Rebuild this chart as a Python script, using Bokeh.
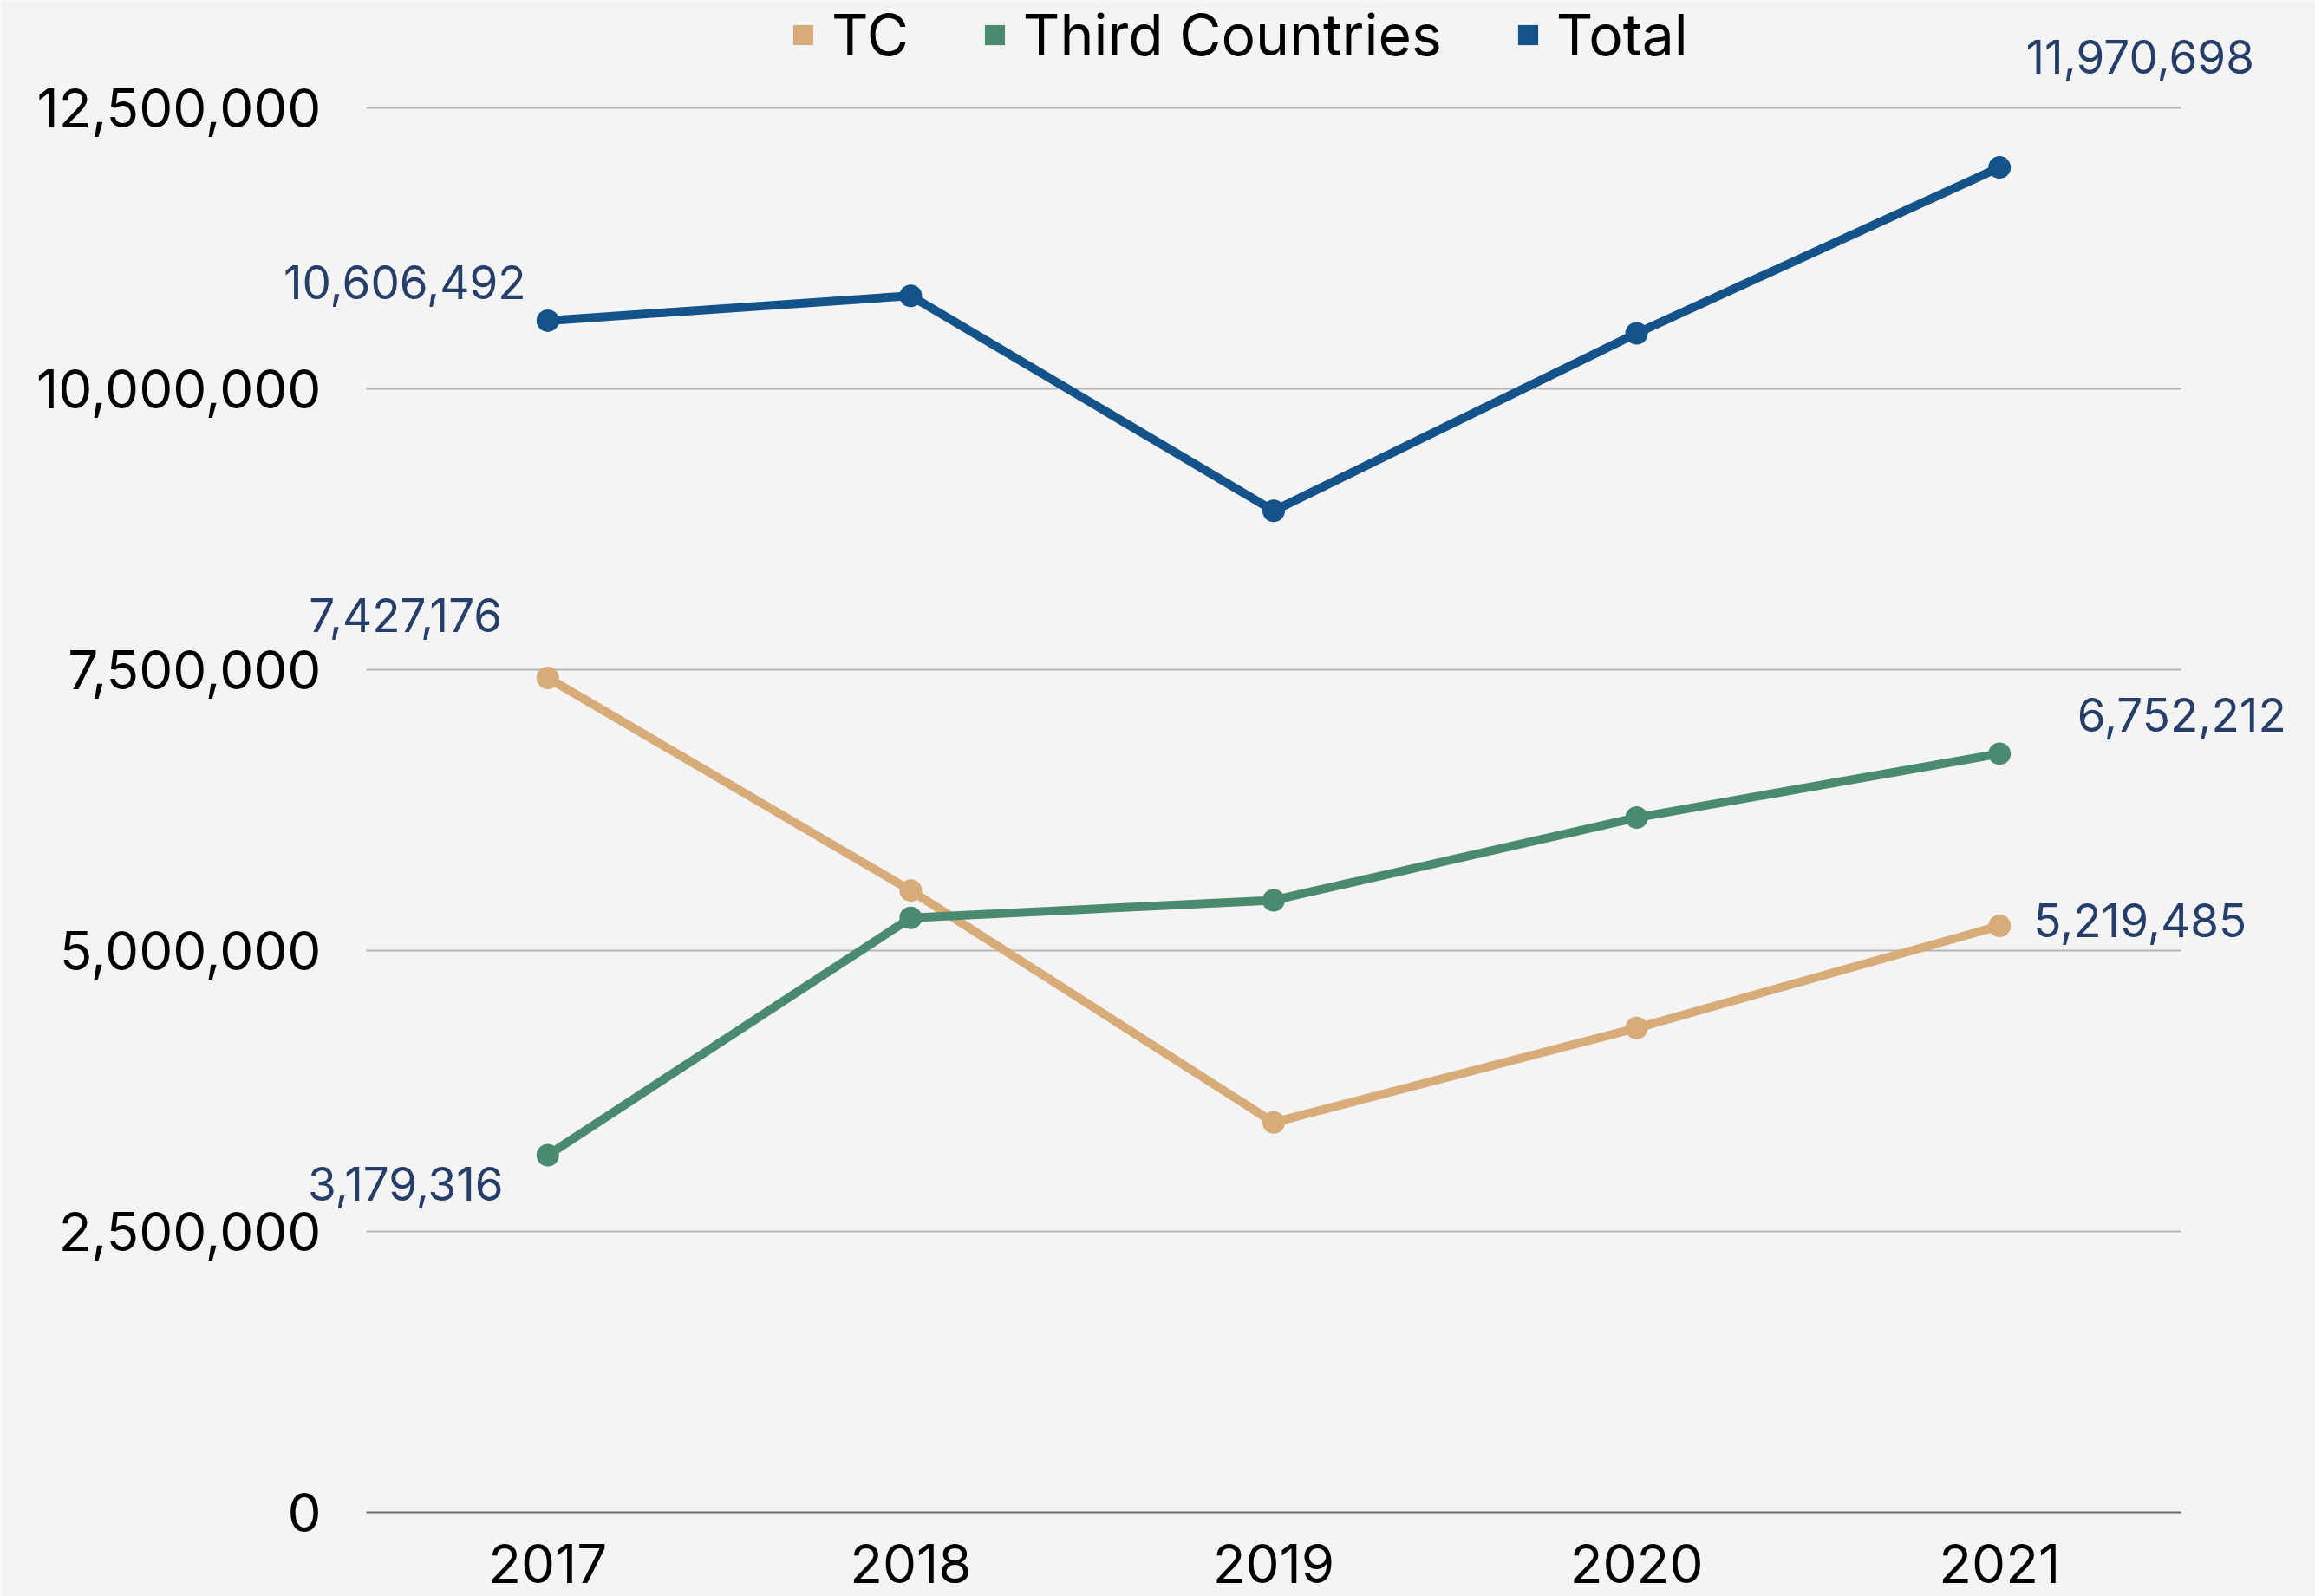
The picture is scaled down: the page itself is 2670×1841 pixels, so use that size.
from bokeh.plotting import figure
from bokeh.models import (ColumnDataSource, Range1d, FixedTicker, LinearAxis,
                          NumeralTickFormatter, Label, Legend, LegendItem)
from bokeh.embed import file_html
from bokeh.resources import INLINE

# ---- data ----
years = ["2017", "2018", "2019", "2020", "2021"]
tc = [7427176, 5535000, 3470000, 4311000, 5219485]
third = [3179316, 5291000, 5448000, 6184000, 6752212]
total = [10606492, 10828000, 8914000, 10494000, 11970698]
y_ticks = [0, 2500000, 5000000, 7500000, 10000000, 12500000]
series_names = ["TC", "Third Countries", "Total"]

# ---- styles ----
colors = ["#D8AC78", "#4A8A6F", "#14538A"]
BG = "#F4F4F4"
FONT = "Inter"
LABEL_COLOR = "#263F6A"

W, H = 2670, 1841
x_idx = list(range(len(years)))          # category slots 0..n-1
p = figure(width=W, height=H,
           x_range=Range1d(-1.5081, 4.8703),
           y_range=Range1d(-748457, 13456790),
           x_axis_location=None, y_axis_location=None,
           output_backend="svg", toolbar_location=None,
           min_border=0)
p.background_fill_color = BG
p.border_fill_color = BG
p.outline_line_color = None
p.xgrid.visible = False
p.ygrid.visible = False

# horizontal gridlines spanning the category slots
grid_cols = ["#6B6B6B" if t == 0 else "#B5B5B5" for t in y_ticks]
p.segment(x0=[x_idx[0] - 0.5] * len(y_ticks), x1=[x_idx[-1] + 0.5] * len(y_ticks),
          y0=y_ticks, y1=y_ticks, line_color=grid_cols, line_width=2)

# axes
yax = LinearAxis(ticker=FixedTicker(ticks=y_ticks),
                 formatter=NumeralTickFormatter(format="0,0"),
                 fixed_location=x_idx[0] - 0.5)
xax = LinearAxis(ticker=FixedTicker(ticks=x_idx),
                 major_label_overrides={i: yr for i, yr in zip(x_idx, years)},
                 fixed_location=0)
for ax in (xax, yax):
    ax.axis_line_color = None
    ax.major_tick_line_color = None
    ax.minor_tick_line_color = None
    ax.major_tick_out = 0
    ax.major_tick_in = 0
    ax.major_label_text_font = FONT
    ax.major_label_text_color = "#000000"
yax.major_label_text_font_size = "62px"
yax.major_label_standoff = 52
xax.major_label_text_font_size = "62px"
xax.major_label_standoff = 36
p.add_layout(yax, "left")
p.add_layout(xax, "below")

# series
series = [tc, third, total]
legend_items = []
for name, vals, col in zip(series_names, series, colors):
    src = ColumnDataSource(dict(x=x_idx, y=vals))
    p.line("x", "y", source=src, line_color=col, line_width=10, line_join="round")
    p.scatter("x", "y", source=src, size=26, fill_color=col, line_color=None)
    sq = p.scatter("x", "y", source=src, marker="square", size=0,
                   fill_color=col, line_color=None)
    legend_items.append(LegendItem(label=name, renderers=[sq]))

legend = Legend(items=legend_items, orientation="horizontal", location=(897, 1761),
                background_fill_alpha=0, border_line_color=None,
                glyph_width=58, glyph_height=58, label_standoff=4, spacing=70,
                margin=0, padding=0,
                label_text_font=FONT, label_text_font_size="66px",
                label_text_color="#000000")
p.add_layout(legend, "center")

# data labels (first and last points of each series); offsets in px, in order
# TC first/last, Third first/last, Total first/last
x_off = [-164, 162, -164, 210, -165, 162]
y_off = [72, 7, -33, 45, 44, 128]
k = 0
for vals in series:
    for i in (0, len(years) - 1):
        p.add_layout(Label(x=x_idx[i], y=vals[i], text=f"{vals[i]:,}",
                           x_offset=x_off[k], y_offset=y_off[k],
                           text_align="center", text_baseline="alphabetic",
                           text_font=FONT, text_font_size="53px",
                           text_color=LABEL_COLOR))
        k += 1

open("out.html", "w").write(file_html(p, INLINE))
